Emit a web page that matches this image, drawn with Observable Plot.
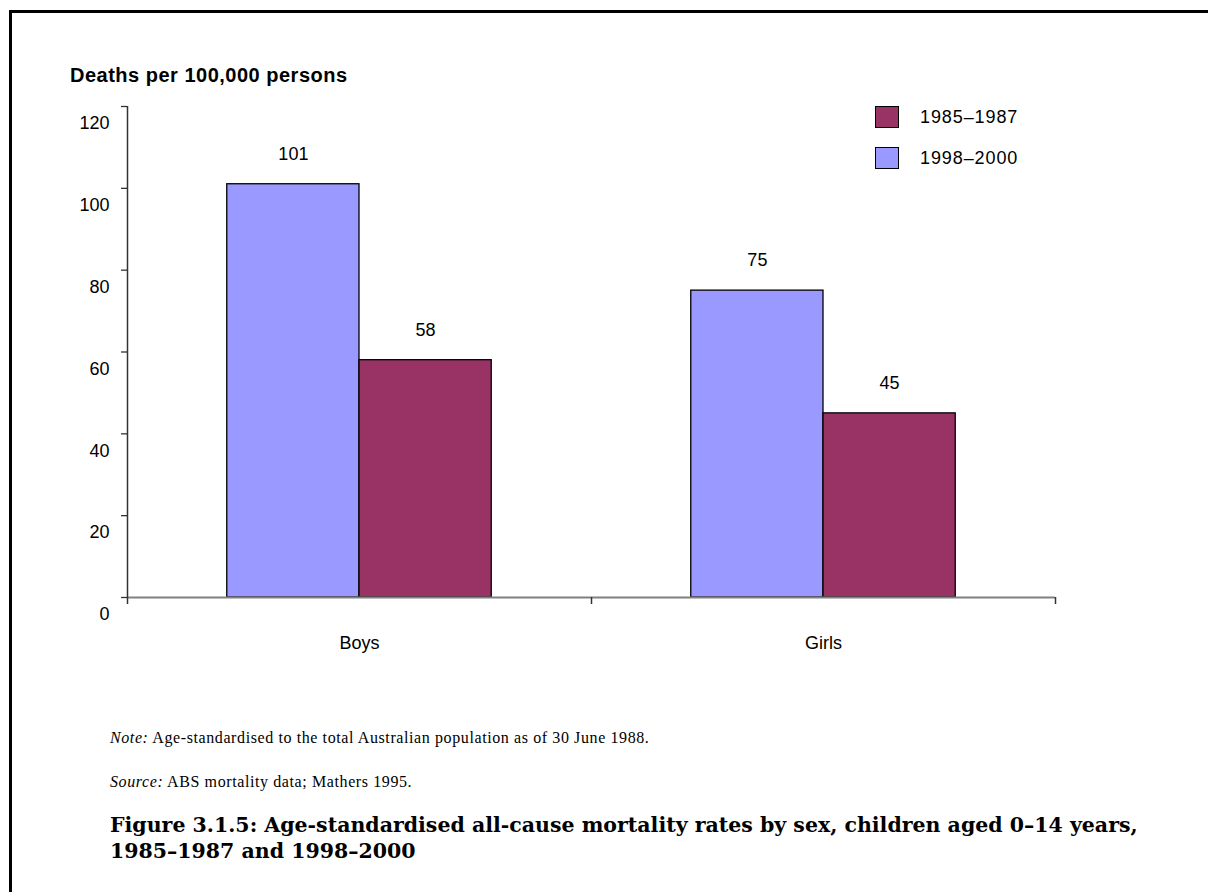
<!DOCTYPE html>
<html>
<head>
<meta charset="utf-8">
<script src="https://cdn.jsdelivr.net/npm/d3@7"></script>
<script src="https://cdn.jsdelivr.net/npm/@observablehq/plot@0.6"></script>
<style>
  html, body { margin: 0; padding: 0; background: #fff; }
  #page { position: relative; width: 1208px; height: 892px; overflow: hidden; background: #fff; }
  #box { position: absolute; left: 9px; top: 10px; width: 1400px; height: 1100px;
         border-left: 3px solid #000; border-top: 3px solid #000; }
  #chart { position: absolute; left: 0; top: 0; }
  .sans { font-family: "Liberation Sans", Arial, sans-serif; color: #000; }
  .serif { font-family: "Liberation Serif", "Times New Roman", serif; color: #000; }
  #ytitle { position: absolute; left: 70px; top: 64px; font-size: 20px; font-weight: bold; letter-spacing: 0.5px; white-space: nowrap; }
  #legend { position: absolute; left: 875px; top: 106px; }
  .lg { position: absolute; left: 0; white-space: nowrap; font-size: 18px; letter-spacing: 0.9px; }
  .lg .sw { position: absolute; left: 0; top: 0; width: 24px; height: 22px; border: 1px solid #000; box-sizing: border-box; }
  .lg .lt { position: absolute; left: 45px; top: 0px; line-height: 22px; }
  #note, #source { position: absolute; left: 110px; font-size: 16px; letter-spacing: 0.6px; white-space: nowrap; }
  #note { top: 729px; }
  #source { top: 773px; }
  #figtitle { position: absolute; left: 110px; top: 812px; font-family: "DejaVu Serif", serif; font-size: 20.5px; font-weight: bold; line-height: 26px; white-space: nowrap; }
</style>
</head>
<body>
<div id="page">
  <div id="box"></div>
  <div id="chart"></div>
  <div id="ytitle" class="sans">Deaths per 100,000 persons</div>
  <div id="legend" class="sans"></div>
  <div id="note" class="serif"><i>Note:</i> Age-standardised to the total Australian population as of 30 June 1988.</div>
  <div id="source" class="serif"><i>Source:</i> ABS mortality data; Mathers 1995.</div>
  <div id="figtitle">Figure 3.1.5: Age-standardised all-cause mortality rates by sex, children aged 0–14 years,<br>1985–1987 and 1998–2000</div>
</div>
<script>
// Categories and series
const groups = ["Boys", "Girls"];
const legendPeriods = ["1985–1987", "1998–2000"];
const legendColors = ["#993366", "#9999FF"];
// Bars are drawn left to right within each group in this order
const barPeriods = ["1998–2000", "1985–1987"];
const rates19982000 = [101, 75];
const rates19851987 = [58, 45];
const yTicks = [0, 20, 40, 60, 80, 100, 120];

const seriesValues = { "1998–2000": rates19982000, "1985–1987": rates19851987 };
const colorOf = Object.fromEntries(legendPeriods.map((p, i) => [p, legendColors[i]]));

// Each group fills one unit of the x domain; bars sit in its middle.
const groupPad = 0.215;
const barWidth = 0.285;
const rows = [];
groups.forEach((g, gi) => {
  barPeriods.forEach((p, si) => {
    const x1 = gi + groupPad + si * barWidth;
    rows.push({ group: g, period: p, value: seriesValues[p][gi], x1, x2: x1 + barWidth, xc: x1 + barWidth / 2 });
  });
});

const font = "Liberation Sans, Arial, sans-serif";

const chart = Plot.plot({
  width: 1208,
  height: 680,
  marginTop: 106,
  marginBottom: 83,
  marginLeft: 127,
  marginRight: 153,
  style: { background: "transparent", fontFamily: font, fontSize: "18px", color: "#000" },
  x: { type: "linear", domain: [0, groups.length] },
  y: { domain: [0, 120] },
  marks: [
    Plot.rectY(rows, { x1: "x1", x2: "x2", y1: 0, y2: "value", fill: d => colorOf[d.period], stroke: "#000", strokeWidth: 1.3 }),
    Plot.ruleY([0], { stroke: "#808080", strokeWidth: 2 }),
    Plot.ruleX([0], { y1: 0, y2: 120, stroke: "#333", strokeWidth: 1.5 }),
    // y tick marks at the values, labels set a little below them
    Plot.axisY({ ticks: yTicks, tickSize: 6, fill: "none", label: null, stroke: "#333", strokeWidth: 1.3 }),
    Plot.axisY({ ticks: yTicks, tickSize: 0, tickPadding: 18, dy: 17, label: null, fontSize: 18, letterSpacing: 1 }),
    Plot.axisX({ ticks: [0, 1, 2], tickSize: 7, tickFormat: () => "", label: null, stroke: "#333", strokeWidth: 1.5 }),
    Plot.text(groups, { x: (d, i) => i + 0.5, y: 0, dy: 46, text: d => d, fontSize: 18, letterSpacing: 0.9 }),
    Plot.text(rows, { x: "xc", y: "value", text: d => String(d.value), dy: -30, fontSize: 18, letterSpacing: 0.9 })
  ]
});
document.getElementById("chart").appendChild(chart);

// Legend
const legend = document.getElementById("legend");
legendPeriods.forEach((p, i) => {
  const item = document.createElement("div");
  item.className = "lg";
  item.style.top = (i * 41) + "px";
  item.innerHTML = `<div class="sw" style="background:${legendColors[i]}"></div><div class="lt">${p}</div>`;
  legend.appendChild(item);
});
</script>
</body>
</html>
